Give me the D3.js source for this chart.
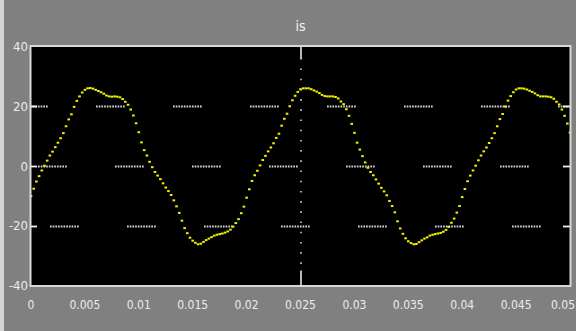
<!DOCTYPE html>
<html>
<head>
<meta charset="utf-8">
<script src="https://cdn.jsdelivr.net/npm/d3@7"></script>
<style>
  html, body { margin: 0; padding: 0; background: #808080; }
  svg { display: block; }
</style>
</head>
<body>
<svg id="chart" width="576" height="331"></svg>
<script>
// Scope trace: one signal sampled every 0.25 ms over 50 ms
const title = "is";
const sampleStep = 0.00025;
const current = [
  -10.1, -7.6, -5.2, -3.4, -1.5, 0.1, 1.8, 3.5, 4.8, 6.3,
  7.8, 9.3, 11.0, 13.3, 15.6, 17.3, 19.8, 21.8, 23.3, 24.6,
  25.5, 26.0, 26.1, 25.9, 25.5, 25.1, 24.7, 24.2, 23.6, 23.3,
  23.2, 23.3, 23.2, 23.0, 22.4, 21.5, 20.5, 18.9, 16.9, 14.3,
  11.3, 7.9, 5.3, 3.5, 1.4, -0.4, -2.0, -3.2, -4.4, -5.8,
  -7.2, -8.4, -9.7, -11.5, -13.5, -15.7, -18.3, -20.8, -22.5, -24.0,
  -25.0, -25.7, -26.2, -26.0, -25.4, -24.8, -24.3, -23.8, -23.3, -23.0,
  -22.8, -22.6, -22.3, -21.9, -21.3, -20.3, -19.1, -17.8, -15.8, -13.6,
  -10.6, -7.8, -5.0, -3.1, -1.6, 0.2, 2.0, 3.4, 4.9, 6.2,
  7.6, 9.4, 10.8, 13.5, 15.8, 17.5, 20.0, 22.0, 23.5, 24.8,
  25.7, 26.0, 26.0, 26.0, 25.7, 25.3, 24.9, 24.4, 23.8, 23.4,
  23.3, 23.3, 23.3, 23.1, 22.6, 21.6, 20.7, 19.0, 16.8, 14.1,
  11.1, 7.8, 5.5, 3.3, 1.2, -0.6, -2.0, -3.1, -4.5, -5.9,
  -7.3, -8.5, -9.8, -11.7, -13.4, -15.5, -18.5, -20.9, -22.7, -24.2,
  -25.2, -25.8, -26.2, -26.1, -25.5, -24.9, -24.3, -23.9, -23.3, -23.0,
  -22.8, -22.6, -22.4, -22.0, -21.4, -20.4, -19.0, -17.6, -15.6, -13.4,
  -10.4, -7.7, -5.1, -3.2, -1.5, 0.1, 1.9, 3.5, 4.9, 6.2,
  7.7, 9.3, 11.0, 13.3, 15.7, 17.4, 19.9, 21.9, 23.4, 24.7,
  25.6, 26.0, 26.0, 25.9, 25.6, 25.2, 24.8, 24.3, 23.7, 23.3,
  23.3, 23.3, 23.2, 23.0, 22.5, 21.5, 20.6, 18.9, 16.8, 14.2,
  11.2
];

const xTicks = [0, 0.005, 0.01, 0.015, 0.02, 0.025, 0.03, 0.035, 0.04, 0.045, 0.05];
const xTickLabels = ["0", "0.005", "0.01", "0.015", "0.02", "0.025", "0.03", "0.035", "0.04", "0.045", "0.05"];
const yTicks = [-40, -20, 0, 20, 40];
const yTickLabels = ["-40", "-20", "0", "20", "40"];
const yGridValues = [20, 0, -20];
const xGridValues = [0.025];

const svg = d3.select("#chart");
const W = 576, H = 331;
const plot = { left: 31, right: 570, top: 46.5, bottom: 285.5 };

const x = d3.scaleLinear().domain([0, 0.05]).range([plot.left, plot.right]);
const y = d3.scaleLinear().domain([-40, 40]).range([plot.bottom, plot.top]);

// figure background with a light left edge
svg.append("rect").attr("width", W).attr("height", H).attr("fill", "#808080");
svg.append("rect").attr("width", 4).attr("height", H).attr("fill", "#d4d4d4");

// axes area
svg.append("rect")
  .attr("x", plot.left).attr("y", plot.top)
  .attr("width", plot.right - plot.left).attr("height", plot.bottom - plot.top)
  .attr("fill", "#000");

const fontFamily = "'DejaVu Sans Condensed', 'DejaVu Sans', sans-serif";

// horizontal grid: dotted runs
function dotRun(dots, period, dotLen, gap) {
  const arr = [];
  for (let i = 0; i < dots; i++) {
    arr.push(dotLen, i < dots - 1 ? period - dotLen : gap);
  }
  return arr.join(",");
}
const hPattern = dotRun(11, 2.7, 1.7, 48.3);
const hOffsets = { "20": 12, "0": 70, "-20": 58 };
svg.append("g").selectAll("line").data(yGridValues).join("line")
  .attr("x1", plot.left).attr("x2", plot.right)
  .attr("y1", d => Math.round(y(d)) + 0.5).attr("y2", d => Math.round(y(d)) + 0.5)
  .attr("stroke", "#d0d0d0").attr("stroke-width", 1.8)
  .attr("stroke-dasharray", hPattern)
  .attr("stroke-dashoffset", d => hOffsets[String(d)]);

// vertical grid: sparse dots
svg.append("g").selectAll("line").data(xGridValues).join("line")
  .attr("x1", d => Math.round(x(d))).attr("x2", d => Math.round(x(d)))
  .attr("y1", plot.top + 14).attr("y2", plot.bottom - 14)
  .attr("stroke", "#d0d0d0").attr("stroke-width", 1.6)
  .attr("stroke-dasharray", "1.6,8.6")
  .attr("stroke-dashoffset", -8);

// x ticks on the gridded column (top and bottom, inward)
const xt = svg.append("g");
xGridValues.forEach(v => {
  const px = Math.round(x(v));
  xt.append("line").attr("x1", px).attr("x2", px).attr("y1", plot.top).attr("y2", plot.top + 13)
    .attr("stroke", "#e8e8e8").attr("stroke-width", 1.6);
  xt.append("line").attr("x1", px).attr("x2", px).attr("y1", plot.bottom - 15).attr("y2", plot.bottom)
    .attr("stroke", "#e8e8e8").attr("stroke-width", 1.6);
});

// y ticks, inward on both sides
const yt = svg.append("g");
yGridValues.forEach(v => {
  const py = Math.round(y(v)) + 0.5;
  yt.append("line").attr("x1", plot.left).attr("x2", plot.left + 6).attr("y1", py).attr("y2", py)
    .attr("stroke", "#f0f0f0").attr("stroke-width", 1.8);
  yt.append("line").attr("x1", plot.right - 7).attr("x2", plot.right).attr("y1", py).attr("y2", py)
    .attr("stroke", "#f0f0f0").attr("stroke-width", 1.8);
});

// signal samples
svg.append("g").selectAll("rect").data(current).join("rect")
  .attr("x", (d, i) => x(i * sampleStep) - 1.3)
  .attr("y", d => y(d) - 1)
  .attr("width", 2.6).attr("height", 2)
  .attr("fill", "#f2f200");

// frame
svg.append("rect")
  .attr("x", plot.left - 0.5).attr("y", plot.top - 0.5)
  .attr("width", plot.right - plot.left + 1).attr("height", plot.bottom - plot.top + 1)
  .attr("fill", "none").attr("stroke", "#d8d8d8").attr("stroke-width", 2);

// tick labels
svg.append("g").selectAll("text").data(yTicks).join("text")
  .attr("x", 28).attr("y", d => y(d))
  .attr("dy", "0.36em")
  .attr("text-anchor", "end")
  .attr("font-family", fontFamily).attr("font-size", 13)
  .attr("fill", "#ececec")
  .text((d, i) => yTickLabels[i]);

// the last label is kept inside the figure's right edge
const lastX = xTicks.length - 1;
svg.append("g").selectAll("text").data(xTicks).join("text")
  .attr("x", (d, i) => i === lastX ? W - 1 : x(d)).attr("y", 309)
  .attr("text-anchor", (d, i) => i === lastX ? "end" : "middle")
  .attr("font-family", fontFamily).attr("font-size", 12)
  .attr("fill", "#ececec")
  .text((d, i) => xTickLabels[i]);

// title
svg.append("text")
  .attr("x", x(0.025)).attr("y", 31)
  .attr("text-anchor", "middle")
  .attr("font-family", fontFamily).attr("font-size", 14)
  .attr("fill", "#f4f4f4")
  .text(title);
</script>
</body>
</html>
